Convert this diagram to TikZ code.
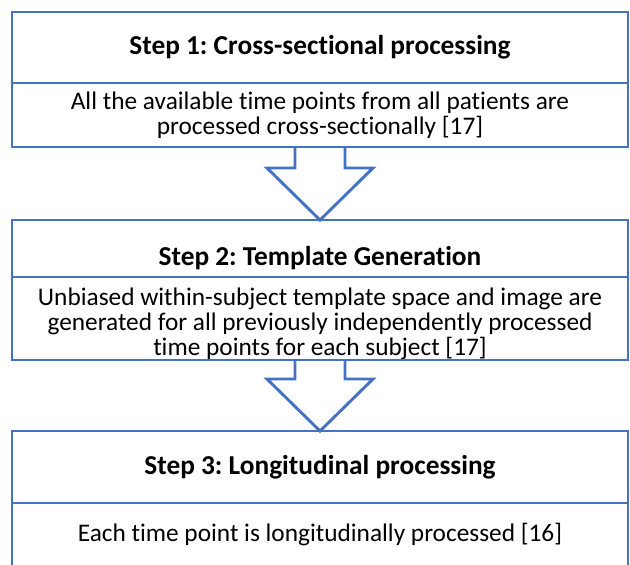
\documentclass[tikz,border=0pt]{standalone}
\usepackage{fontspec}
\setmainfont{Carlito}[Ligatures={NoCommon}]
\usetikzlibrary{positioning}
\usetikzlibrary{calc}
\usepackage{xcolor}
\frenchspacing
\definecolor{stepblue}{RGB}{68,114,196}
\tikzset{
  steptitle/.style={minimum width=462pt, inner sep=0pt, outer sep=0pt, font=\fontsize{20.5}{24}\selectfont\bfseries},
  stepbody/.style={minimum width=462pt, inner sep=0pt, outer sep=0pt, align=center, font=\fontsize{19}{19}\selectfont},
  frame/.style={draw=stepblue, line width=2.2pt},
  divider/.style={draw=stepblue, line width=1.1pt},
  flow/.style={draw=stepblue, line width=2.2pt, line join=miter}
}

\begin{document}
\begin{tikzpicture}[x=0.75pt,y=-0.75pt]
\useasboundingbox (0,0) rectangle (630,564);
\clip (0,0) rectangle (630,564);
\node[steptitle, minimum height=53.25pt] (t1) at (320,47.5) {Step 1: Cross-sectional processing};
\node[stepbody, minimum height=48pt, below=0pt of t1] (b1) {All the available time points from all patients are\\processed cross-sectionally [17]};
\node[steptitle, minimum height=42.75pt, text height=30pt, text depth=5pt, below=54.75pt of b1] (t2) {Step 2: Template Generation};
\node[stepbody, minimum height=62.25pt, below=0pt of t2] (b2) {\rule{0pt}{21pt}Unbiased within-subject template space and image are\\generated for all previously independently processed\\time points for each subject [17]};
\node[steptitle, minimum height=54pt, below=53.25pt of b2] (t3) {Step 3: Longitudinal processing};
\node[stepbody, minimum height=48pt, below=0pt of t3] (b3) {Each time point is longitudinally processed [16]};
% boxes
\foreach \t/\b in {t1/b1,t2/b2,t3/b3}{
  \draw[divider] (\t.south west) -- (\t.south east);
  \draw[frame] (\t.north west) rectangle (\b.south east);
}
% block arrows
\foreach \a/\b in {b1/t2,b2/t3}{
  \coordinate (h) at ($(\b.north)+(0,-52)$);
  \draw[flow] ($(\a.south)+(-25,0)$) -- ($(h)+(-25,0)$) -- ($(h)+(-53,0)$) -- (\b.north)
    -- ($(h)+(53,0)$) -- ($(h)+(25,0)$) -- ($(\a.south)+(25,0)$);
}
\end{tikzpicture}
\end{document}
